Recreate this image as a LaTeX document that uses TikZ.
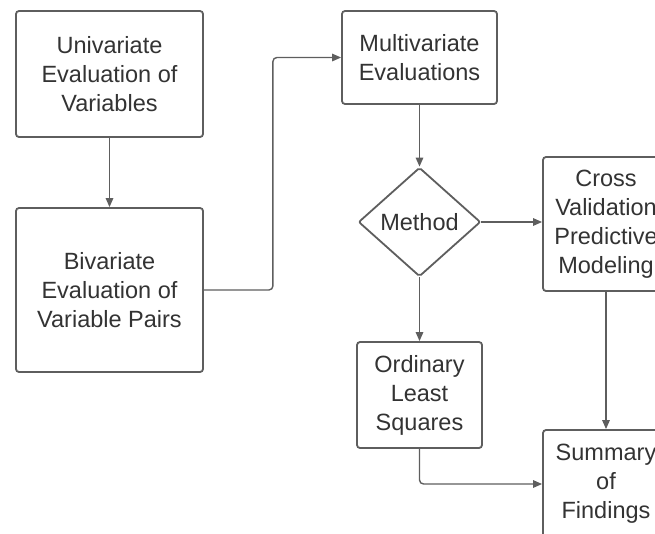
\documentclass[tikz,border=0pt]{standalone}
\usepackage{fontspec}
\setmainfont{Liberation Sans}
\usetikzlibrary{arrows.meta, shapes.geometric}
\definecolor{LineGray}{HTML}{5E5E5E}
\definecolor{TextGray}{HTML}{333333}
\tikzset{
    stepbox/.style = {draw = LineGray, line width = 1.8pt, rounded corners = 3pt,
        fill = white, text = TextGray, align = center, inner sep = 0pt,
        font = \fontsize{23.5}{29}\selectfont},
    decision/.style = {stepbox, shape = diamond, rounded corners = 2pt, aspect = 1.12},
    flow/.style = {draw = LineGray, line width = 1.4pt,
        -{Triangle[length = 9pt, width = 7.5pt]}},
}
\begin{document}
\begin{tikzpicture}[x = 1pt, y = -1pt]

\useasboundingbox (0, 0) rectangle (655, 533);
\clip (0, 0) rectangle (655, 533);

\node[stepbox, minimum width = 187pt, minimum height = 126pt] (uni) at (109.5, 74)
    {Univariate\\Evaluation of\\Variables};
\node[stepbox, minimum width = 187pt, minimum height = 164pt] (bi) at (109.5, 290)
    {Bivariate\\Evaluation of\\Variable Pairs};
\node[stepbox, minimum width = 155pt, minimum height = 93pt] (multi) at (419.5, 57.5)
    {Multivariate\\Evaluations};
\node[decision, minimum width = 122pt, minimum height = 109pt] (method) at (419.5, 222)
    {Method};
\node[stepbox, minimum width = 126pt, minimum height = 134pt] (cross) at (606, 224)
    {Cross\\Validation\\Predictive\\Modeling};
\node[stepbox, minimum width = 125pt, minimum height = 106pt] (ols) at (419.5, 395)
    {Ordinary\\Least\\Squares};
\node[stepbox, minimum width = 126pt, minimum height = 108pt] (summary) at (606, 484)
    {Summary\\of\\Findings};

\draw[flow] (uni) -- (bi);
\draw[flow, rounded corners = 4pt] (bi.east) -- ([xshift = 69pt]bi.east) |- (multi.west);
\draw[flow] (multi) -- (method);
\draw[flow] (method.east) -- (method.east -| cross.west);
\draw[flow] (method) -- (ols);
\draw[flow] (cross) -- (summary);
\draw[flow, rounded corners = 4pt] (ols.south) |- (summary.west);

\end{tikzpicture}
\end{document}
